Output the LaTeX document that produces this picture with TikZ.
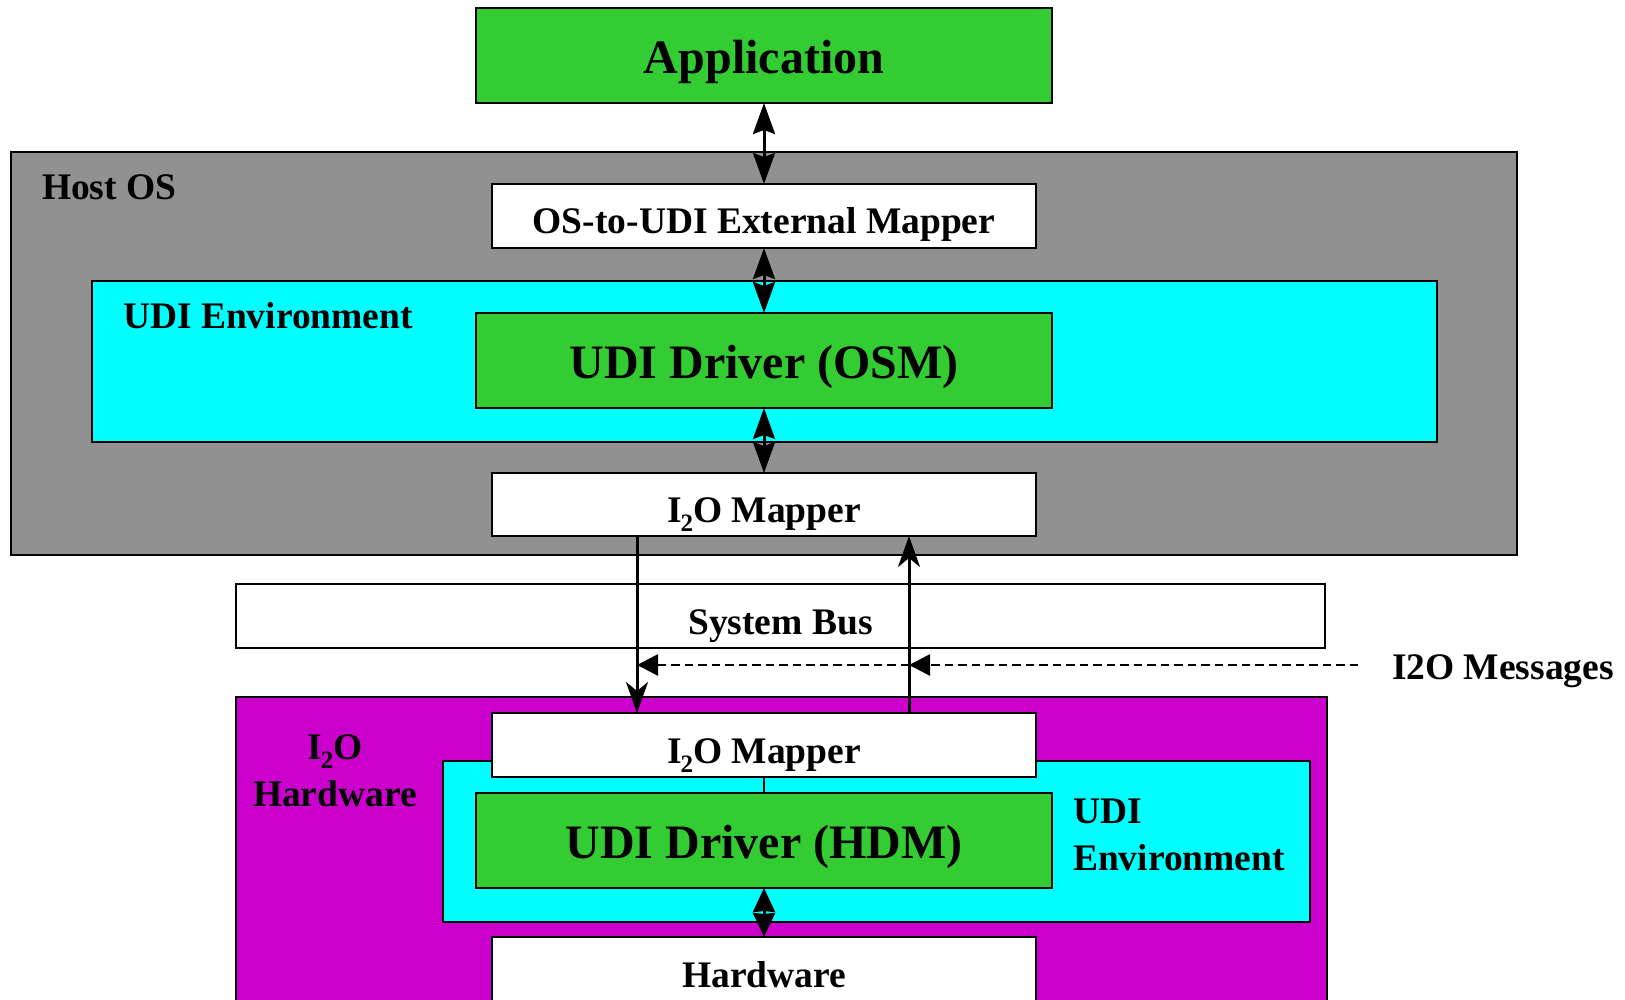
\documentclass[tikz,border=0pt]{standalone}
\usepackage{fontspec}
\setmainfont{Liberation Serif}
\usetikzlibrary{arrows.meta}

\definecolor{appgreen}{RGB}{51,204,51}
\definecolor{hostgray}{RGB}{145,145,145}
\definecolor{envcyan}{RGB}{0,255,255}
\definecolor{hwmagenta}{RGB}{204,0,204}

% font sizes
\newcommand{\fsBig}{\fontsize{48}{48}\selectfont\bfseries}
\newcommand{\fsMid}{\fontsize{37.5}{47}\selectfont\bfseries}
% I2O with a lowered subscript two
\newcommand{\ItwoO}{I\kern-1pt\raisebox{-9pt}{\fontsize{25}{25}\selectfont 2}O}

\begin{document}
\begin{tikzpicture}[x=1pt,y=-1pt,
  region/.style={draw=black, line width=2pt, anchor=north west,
    inner sep=0pt, outer sep=0pt, text height=36pt, text depth=0pt},
  bigtext/.style={font=\fsBig},
  midtext/.style={font=\fsMid},
  caption/.style={font=\fsMid, inner sep=0pt, outer sep=0pt},
  dbl/.style={line width=3pt,
    {Stealth[length=31pt,width=22pt,inset=4pt]}-{Stealth[length=31pt,width=22pt,inset=4pt]}},
  shortdbl/.style={line width=3pt,
    {Stealth[length=24pt,width=22pt,inset=1pt]}-{Stealth[length=24pt,width=22pt,inset=1pt]}},
  sarrow/.style={line width=3pt, -{Stealth[length=31pt,width=22pt,inset=9pt]}},
  link/.style={line width=2.5pt},
  dsharrow/.style={line width=2.7pt, dash pattern=on 8.5pt off 5pt,
    -{Triangle[length=21pt,width=21pt]}}]

\useasboundingbox (0,0) rectangle (1625,1000);
\clip (0,0) rectangle (1625,1000);

% host operating system side
\node[region, fill=hostgray, minimum width=1506pt, minimum height=403pt] (host) at (11,152) {};
\node[caption, anchor=base west] (hostlbl) at (42,200) {Host OS};
\node[region, fill=envcyan, minimum width=1345pt, minimum height=161pt] (envT) at (92,281) {};
\node[caption, anchor=base west] (envTlbl) at (123,329) {UDI Environment};

\node[region, bigtext, fill=appgreen, minimum width=576pt, minimum height=95pt] (app) at (476,8) {Application};
\node[region, midtext, fill=white, minimum width=544pt, minimum height=64pt] (mapper) at (492,184) {OS-to-UDI External Mapper};
\node[region, bigtext, fill=appgreen, minimum width=576pt, minimum height=95pt] (osm) at (476,313) {UDI Driver (OSM)};
\node[region, midtext, fill=white, minimum width=544pt, minimum height=63pt] (mapT) at (492,473) {\ItwoO{} Mapper};

% system bus
\node[region, midtext, fill=white, minimum width=1089pt, minimum height=64pt] (bus) at (236,584) {System Bus};

% I2O hardware side
\node[region, fill=hwmagenta, minimum width=1091pt, minimum height=330pt] (hwbox) at (236,697) {};
\node[caption, align=center, anchor=base] (hwlbl) at (335,806) {\ItwoO\\Hardware};
\node[region, fill=envcyan, minimum width=867pt, minimum height=161pt] (envB) at (443,761) {};
\node[caption, align=left, anchor=base west] (envBlbl) at (1073,870) {UDI\\Environment};
\node[region, midtext, fill=white, minimum width=544pt, minimum height=64pt] (mapB) at (492,713) {\ItwoO{} Mapper};
\node[region, bigtext, fill=appgreen, minimum width=576pt, minimum height=95pt] (hdm) at (476,793) {UDI Driver (HDM)};
\node[region, midtext, fill=white, minimum width=544pt, minimum height=64pt] (hw) at (492,937) {Hardware};

% message label
\node[caption, anchor=base west] (msg) at (1392,679) {I2O Messages};

% connectors
\coordinate (downx) at (637,0);
\coordinate (upx) at (909,0);
\coordinate (msgtail) at (1358,665);

\draw[dbl] (app.south) -- (mapper.north);
\draw[dbl] (mapper.south) -- (osm.north);
\draw[dbl] (osm.south) -- (mapT.north);
\draw[shortdbl] (hdm.south) -- (hw.north);
\draw[link] (mapB.south) -- (hdm.north);

\draw[sarrow] (mapT.south -| downx) -- (mapB.north -| downx);
\draw[sarrow] (mapB.north -| upx) -- (mapT.south -| upx);

\draw[dsharrow] (msgtail) -- (msgtail -| upx);
\draw[dsharrow] (msgtail -| upx) -- (msgtail -| downx);
\end{tikzpicture}
\end{document}
